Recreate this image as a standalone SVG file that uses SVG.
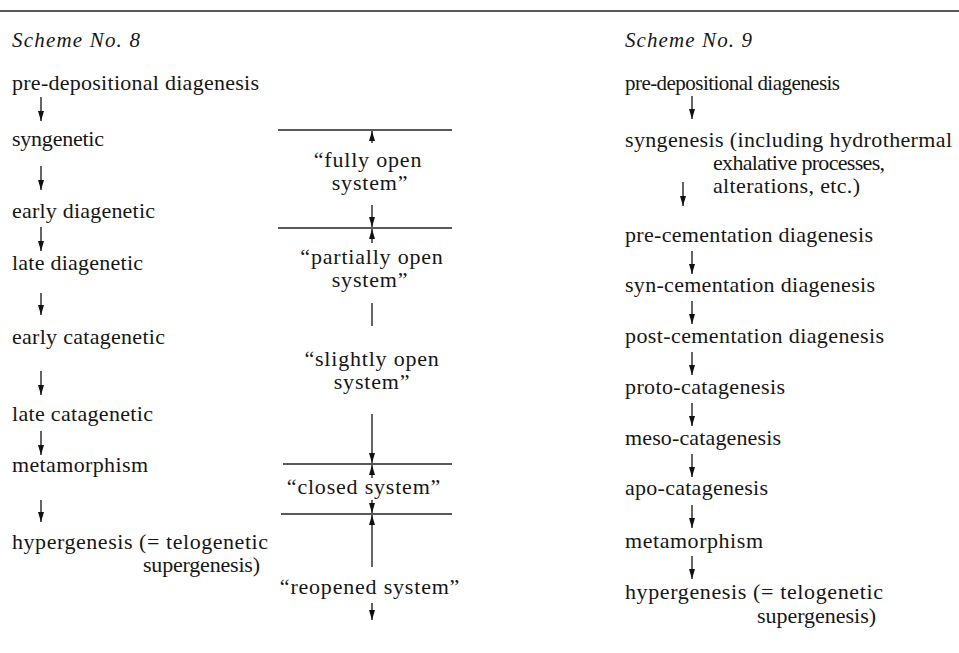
<svg xmlns="http://www.w3.org/2000/svg" width="959" height="653" viewBox="0 0 959 653">
  <style>
    text { font-family: "Liberation Serif", "Times New Roman", serif; font-size: 22px; fill: #161616; }
    .title { font-style: italic; font-size: 21px; }
    .small { font-size: 21px; }
    .band { text-anchor: middle; letter-spacing: 0.8px; }
    .rule { stroke: #222; stroke-width: 1.3; fill: none; }
    .conn { stroke: #111; stroke-width: 1.3; fill: none; }
    .arrow { marker-end: url(#head); }
  </style>
  <defs>
    <marker id="head" viewBox="0 0 10 6" refX="10" refY="3" markerWidth="10" markerHeight="6" markerUnits="userSpaceOnUse" orient="auto">
      <path d="M0,0 L10,3 L0,6 z" fill="#111"/>
    </marker>
  </defs>

  <rect width="959" height="653" fill="#ffffff"/>

  <!-- page rule -->
  <line class="rule" x1="0" y1="11" x2="959" y2="11"/>

  <!-- Scheme No. 8 -->
  <g id="scheme8-title"><text class="title" x="12" y="47" textLength="128" lengthAdjust="spacing">Scheme No. 8</text></g>
  <g id="s8-predepositional"><text x="12" y="90" textLength="247" lengthAdjust="spacing">pre-depositional diagenesis</text></g>
  <g id="s8-syngenetic"><text x="12" y="146" textLength="92" lengthAdjust="spacing">syngenetic</text></g>
  <g id="s8-early-diagenetic"><text x="12" y="218" textLength="143" lengthAdjust="spacing">early diagenetic</text></g>
  <g id="s8-late-diagenetic"><text x="12" y="270" textLength="131" lengthAdjust="spacing">late diagenetic</text></g>
  <g id="s8-early-catagenetic"><text x="12" y="344" textLength="153" lengthAdjust="spacing">early catagenetic</text></g>
  <g id="s8-late-catagenetic"><text x="12" y="421" textLength="141" lengthAdjust="spacing">late catagenetic</text></g>
  <g id="s8-metamorphism"><text x="12" y="472" textLength="136" lengthAdjust="spacing">metamorphism</text></g>
  <g id="s8-hypergenesis">
    <text x="12" y="549" textLength="256" lengthAdjust="spacing">hypergenesis (= telogenetic</text>
    <text x="143" y="572" textLength="117" lengthAdjust="spacing">supergenesis)</text>
  </g>

  <!-- system openness bands -->
  <g id="band-dividers">
    <line class="rule" x1="278" y1="130" x2="452" y2="130"/>
    <line class="rule" x1="278" y1="228" x2="452" y2="228"/>
    <line class="rule" x1="283" y1="464" x2="452" y2="464"/>
    <line class="rule" x1="281" y1="514" x2="452" y2="514"/>
  </g>
  <g id="fully-open">
    <text class="band" x="368" y="167">“fully open</text>
    <text class="band" x="370" y="190">system”</text>
  </g>
  <g id="partially-open">
    <text class="band" x="372" y="264">“partially open</text>
    <text class="band" x="370" y="287">system”</text>
  </g>
  <g id="slightly-open">
    <text class="band" x="372" y="366">“slightly open</text>
    <text class="band" x="372" y="389">system”</text>
  </g>
  <g id="closed"><text class="band" x="364" y="494">“closed system”</text></g>
  <g id="reopened"><text class="band" x="370" y="594">“reopened system”</text></g>

  <!-- Scheme No. 9 -->
  <g id="scheme9-title"><text class="title" x="625" y="47" textLength="127" lengthAdjust="spacing">Scheme No. 9</text></g>
  <g id="s9-predepositional"><text class="small" x="625" y="90" textLength="215" lengthAdjust="spacing">pre-depositional diagenesis</text></g>
  <g id="s9-syngenesis">
    <text x="625" y="147" textLength="327" lengthAdjust="spacing">syngenesis (including hydrothermal</text>
    <text x="713" y="170" textLength="172" lengthAdjust="spacing">exhalative processes,</text>
    <text x="713" y="193" textLength="147" lengthAdjust="spacing">alterations, etc.)</text>
  </g>
  <g id="s9-pre-cementation"><text x="625" y="242" textLength="248" lengthAdjust="spacing">pre-cementation diagenesis</text></g>
  <g id="s9-syn-cementation"><text x="625" y="292" textLength="250" lengthAdjust="spacing">syn-cementation diagenesis</text></g>
  <g id="s9-post-cementation"><text x="625" y="343" textLength="259" lengthAdjust="spacing">post-cementation diagenesis</text></g>
  <g id="s9-proto-catagenesis"><text x="625" y="394" textLength="160" lengthAdjust="spacing">proto-catagenesis</text></g>
  <g id="s9-meso-catagenesis"><text x="625" y="445" textLength="156" lengthAdjust="spacing">meso-catagenesis</text></g>
  <g id="s9-apo-catagenesis"><text x="625" y="495" textLength="143" lengthAdjust="spacing">apo-catagenesis</text></g>
  <g id="s9-metamorphism"><text x="625" y="548" textLength="138" lengthAdjust="spacing">metamorphism</text></g>
  <g id="s9-hypergenesis">
    <text x="625" y="599" textLength="258" lengthAdjust="spacing">hypergenesis (= telogenetic</text>
    <text x="757" y="623" textLength="119" lengthAdjust="spacing">supergenesis)</text>
  </g>

  <!-- connectors -->
  <g id="connectors">
    <!-- scheme 8 sequence -->
    <line class="conn arrow" x1="41" y1="97" x2="41" y2="121"/>
    <line class="conn arrow" x1="41" y1="166" x2="41" y2="190"/>
    <line class="conn arrow" x1="41" y1="227" x2="41" y2="251"/>
    <line class="conn arrow" x1="41" y1="293" x2="41" y2="315"/>
    <line class="conn arrow" x1="41" y1="371" x2="41" y2="395"/>
    <line class="conn arrow" x1="41" y1="431" x2="41" y2="455"/>
    <line class="conn arrow" x1="41" y1="500" x2="41" y2="522"/>
    <!-- system bands -->
    <line class="conn arrow" x1="372" y1="143" x2="372" y2="131"/>
    <line class="conn arrow" x1="372" y1="205" x2="372" y2="227"/>
    <line class="conn arrow" x1="372" y1="243" x2="372" y2="229"/>
    <line class="conn" x1="372" y1="303" x2="372" y2="326"/>
    <line class="conn arrow" x1="372" y1="414" x2="372" y2="463"/>
    <line class="conn arrow" x1="372" y1="478" x2="372" y2="465"/>
    <line class="conn arrow" x1="372" y1="500" x2="372" y2="513"/>
    <line class="conn arrow" x1="372" y1="567" x2="372" y2="515"/>
    <line class="conn arrow" x1="372" y1="603" x2="372" y2="620"/>
    <!-- scheme 9 sequence -->
    <line class="conn arrow" x1="692" y1="96" x2="692" y2="119"/>
    <line class="conn arrow" x1="683" y1="182" x2="683" y2="206"/>
    <line class="conn arrow" x1="692" y1="251" x2="692" y2="274"/>
    <line class="conn arrow" x1="692" y1="301" x2="692" y2="324"/>
    <line class="conn arrow" x1="692" y1="352" x2="692" y2="375"/>
    <line class="conn arrow" x1="692" y1="403" x2="692" y2="426"/>
    <line class="conn arrow" x1="692" y1="454" x2="692" y2="477"/>
    <line class="conn arrow" x1="692" y1="505" x2="692" y2="528"/>
    <line class="conn arrow" x1="692" y1="556" x2="692" y2="579"/>
  </g>
</svg>
